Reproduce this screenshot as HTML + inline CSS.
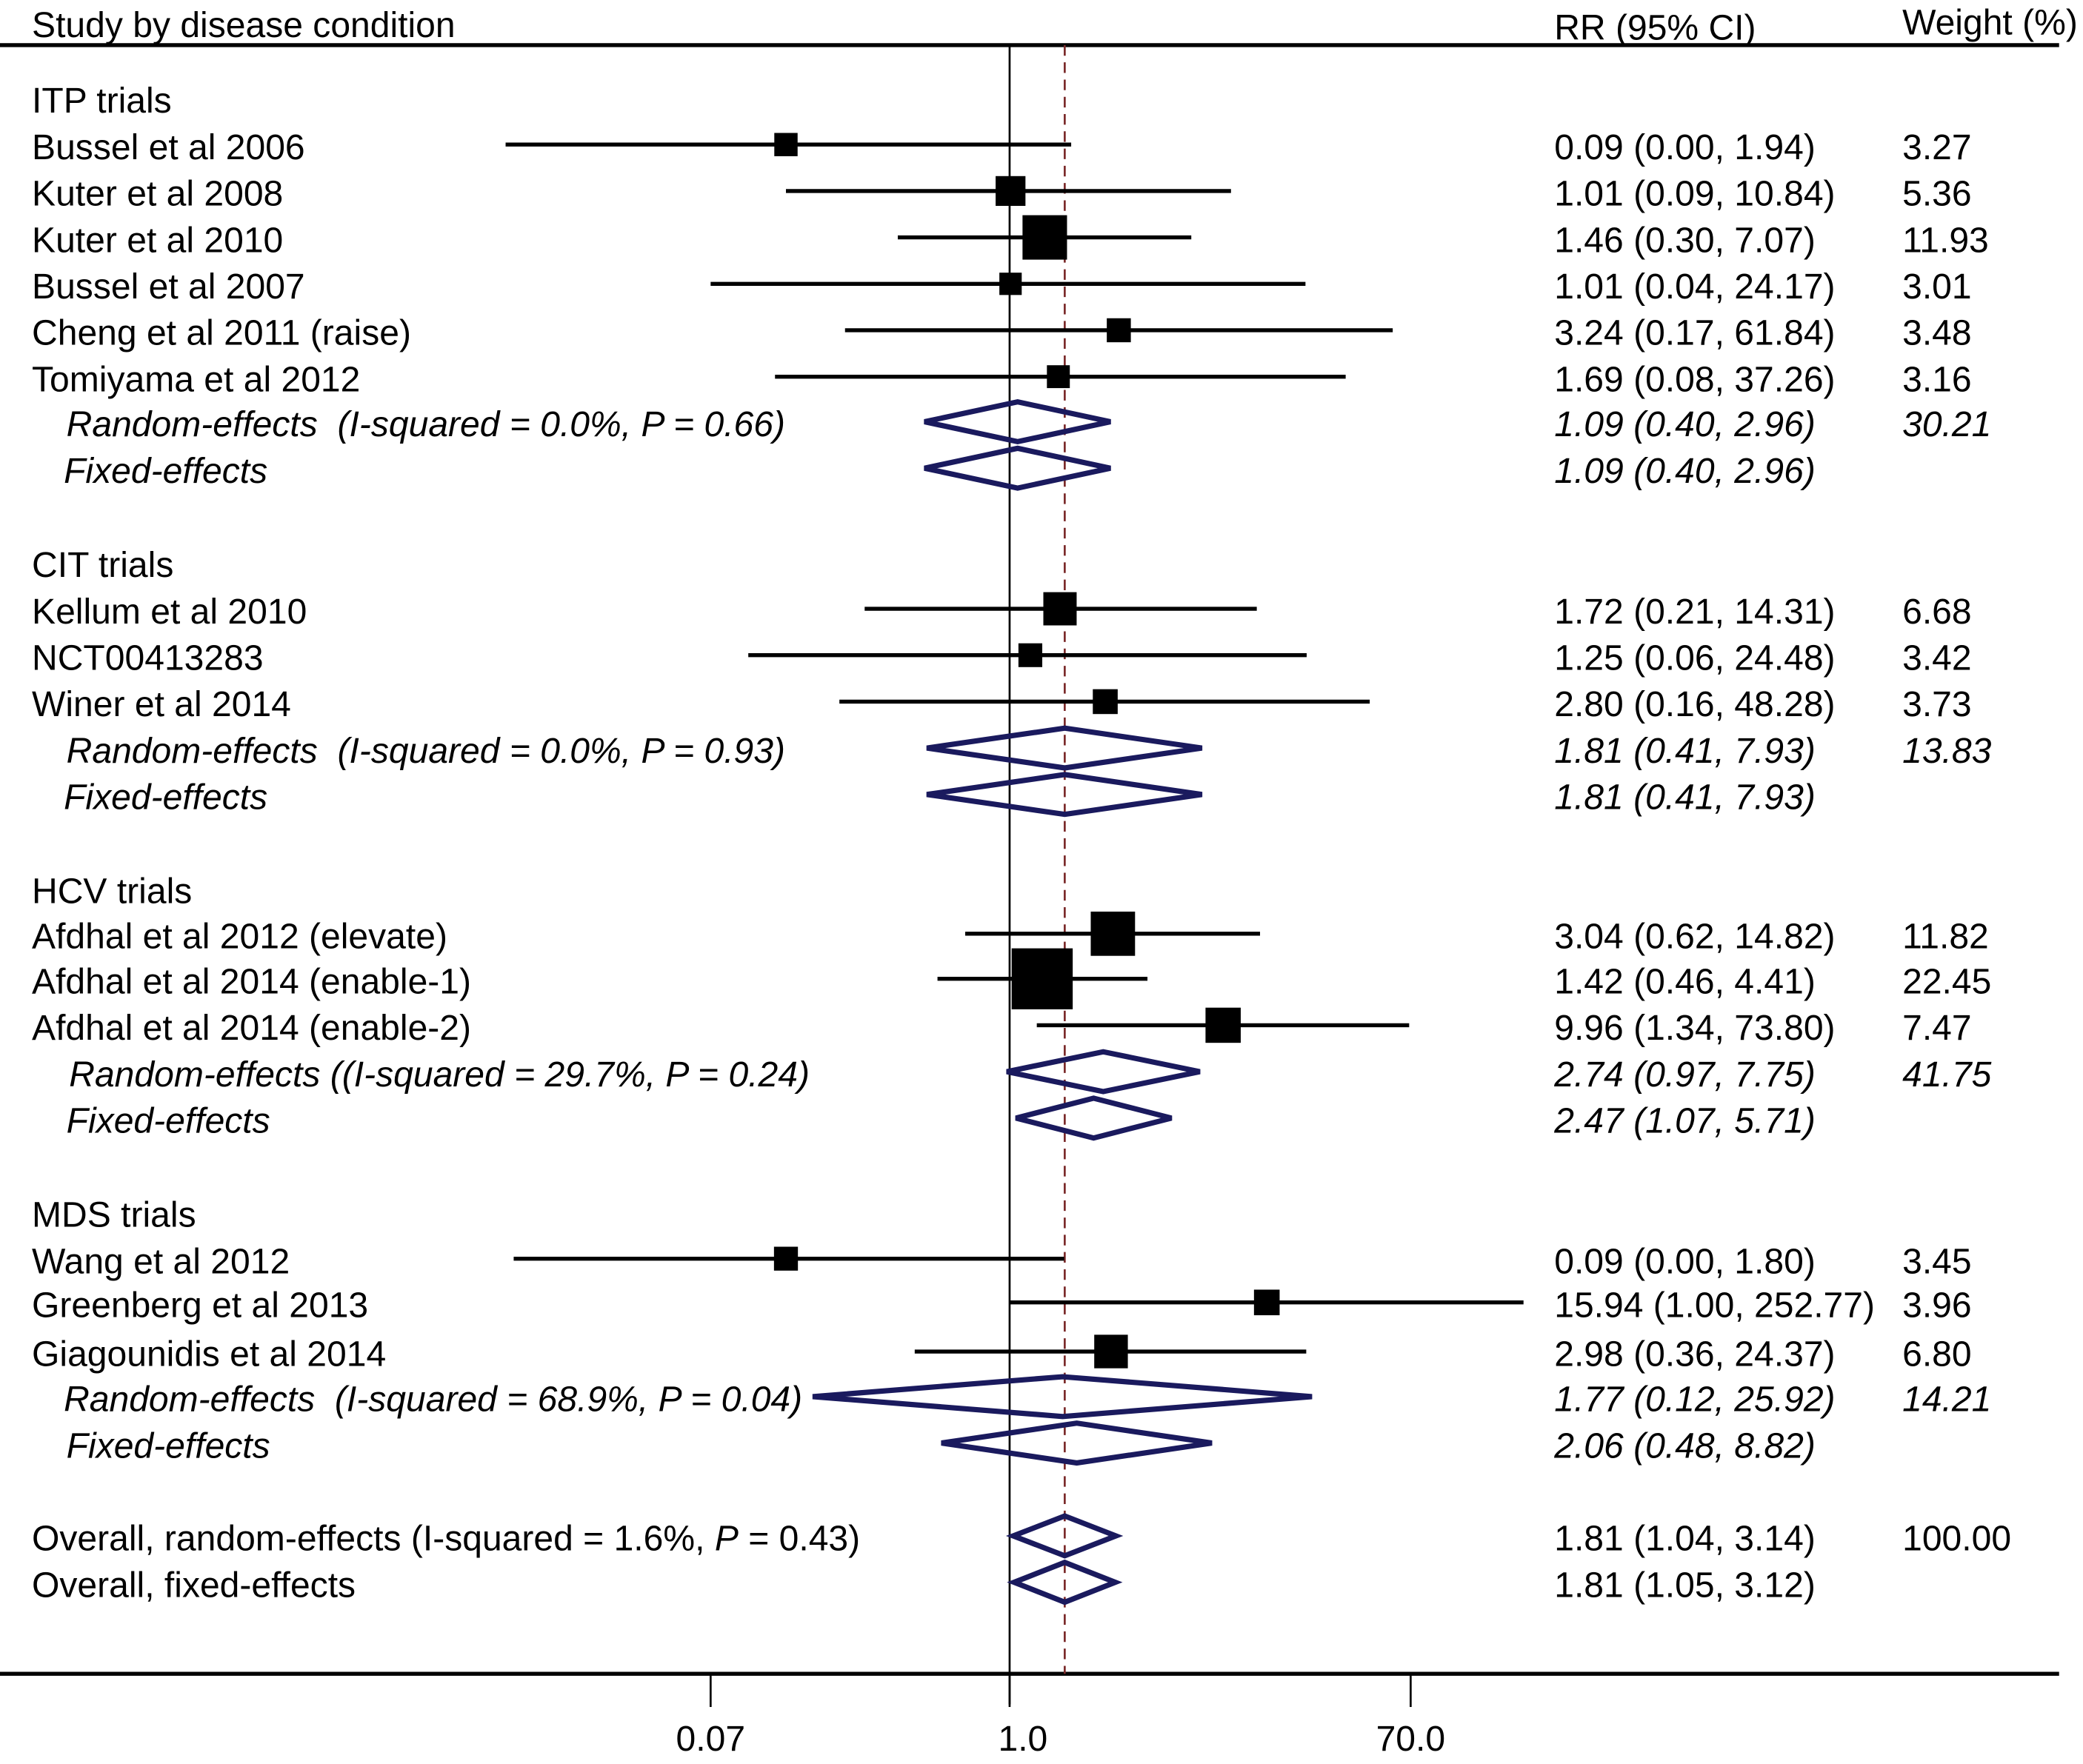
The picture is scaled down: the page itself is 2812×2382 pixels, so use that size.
<!DOCTYPE html>
<html><head><meta charset="utf-8"><style>
html,body{margin:0;padding:0;background:#fff}
svg{display:block}
text{font-family:"Liberation Sans",sans-serif;font-size:26.8px;fill:#000;white-space:pre}
</style></head><body>
<svg id="chart" width="2812" height="2382" viewBox="0 0 1568 1330" preserveAspectRatio="none" xmlns="http://www.w3.org/2000/svg" xml:space="preserve">
<g id="g"></g>
</svg>
<script>
// Study rows: labels, estimates, CI lows/highs, weights, RR text, row index
const labels=["Bussel et al 2006","Kuter et al 2008","Kuter et al 2010","Bussel et al 2007","Cheng et al 2011 (raise)","Tomiyama et al 2012","Kellum et al 2010","NCT00413283","Winer et al 2014","Afdhal et al 2012 (elevate)","Afdhal et al 2014 (enable-1)","Afdhal et al 2014 (enable-2)","Wang et al 2012","Greenberg et al 2013","Giagounidis et al 2014"];
const est=[0.09,1.01,1.46,1.01,3.24,1.69,1.72,1.25,2.80,3.04,1.42,9.96,0.09,15.94,2.98];
const lo=[0.0044,0.09,0.30,0.04,0.17,0.08,0.21,0.06,0.16,0.62,0.46,1.34,0.0048,1.00,0.36];
const hi=[1.94,10.84,7.07,24.17,61.84,37.26,14.31,24.48,48.28,14.82,4.41,73.80,1.80,252.77,24.37];
const weights=[3.27,5.36,11.93,3.01,3.48,3.16,6.68,3.42,3.73,11.82,22.45,7.47,3.45,3.96,6.80];
const rrText=["0.09 (0.00, 1.94)","1.01 (0.09, 10.84)","1.46 (0.30, 7.07)","1.01 (0.04, 24.17)","3.24 (0.17, 61.84)","1.69 (0.08, 37.26)","1.72 (0.21, 14.31)","1.25 (0.06, 24.48)","2.80 (0.16, 48.28)","3.04 (0.62, 14.82)","1.42 (0.46, 4.41)","9.96 (1.34, 73.80)","0.09 (0.00, 1.80)","15.94 (1.00, 252.77)","2.98 (0.36, 24.37)"];
const studyY=[111,146,181,216,251,286,461,496,531,706,740,775,951,984,1021];
// Pooled rows
const poolLabels=["Random-effects  (I-squared = 0.0%, P = 0.66)","Fixed-effects","Random-effects  (I-squared = 0.0%, P = 0.93)","Fixed-effects","Random-effects ((I-squared = 29.7%, P = 0.24)","Fixed-effects","Random-effects  (I-squared = 68.9%, P = 0.04)","Fixed-effects","Overall, random-effects (I-squared = 1.6%, P = 0.43)","Overall, fixed-effects"];
const poolEst=[1.09,1.09,1.81,1.81,2.74,2.47,1.77,2.06,1.81,1.81];
const poolLo=[0.40,0.40,0.41,0.41,0.97,1.07,0.12,0.48,1.04,1.05];
const poolHi=[2.96,2.96,7.93,7.93,7.75,5.71,25.92,8.82,3.14,3.12];
const poolRR=["1.09 (0.40, 2.96)","1.09 (0.40, 2.96)","1.81 (0.41, 7.93)","1.81 (0.41, 7.93)","2.74 (0.97, 7.75)","2.47 (1.07, 5.71)","1.77 (0.12, 25.92)","2.06 (0.48, 8.82)","1.81 (1.04, 3.14)","1.81 (1.05, 3.12)"];
const poolW=["30.21","","13.83","","41.75","","14.21","","100.00",""];
const poolY=[320,355,566,601,810,845,1055,1090,1160,1195];
const poolX=[50,48,50,48,52,50,48,50,24,24];
const groups=["ITP trials","CIT trials","HCV trials","MDS trials"];
const groupY=[76,426,672,916];
const tickLabels=["0.07","1.0","70.0"];
const tickVals=[0.04,1,75];
const overallRR=1.81;

const NS="http://www.w3.org/2000/svg";
const g=document.getElementById('g');
const X0=760, PPD=161;
function x(v){return X0+Math.log10(v)*PPD;}
function el(t,a,txt){const e=document.createElementNS(NS,t);for(const k in a)e.setAttribute(k,a[k]);if(txt!==undefined)e.textContent=txt;g.appendChild(e);return e;}

let e;
e=el('text',{x:24,y:28},'Study by disease condition');


e=el('text',{x:1170,y:30},'RR (95% CI)');


e=el('text',{x:1432,y:26},'Weight (%)');


e=el('line',{x1:0,y1:34,x2:1550,y2:34,stroke:'#000','stroke-width':3});


e=el('line',{x1:0,y1:1262,x2:1550,y2:1262,stroke:'#000','stroke-width':3});


e=el('line',{x1:x(1),y1:34,x2:x(1),y2:1285,stroke:'#000','stroke-width':1.5});


e=el('line',{x1:x(overallRR),y1:34,x2:x(overallRR),y2:1262,stroke:'#7a2a2a','stroke-width':1.5,'stroke-dasharray':'8,5'});



tickVals.forEach((v,i)=>{
  let t=el('line',{x1:x(v),y1:1262,x2:x(v),y2:1287,stroke:'#000','stroke-width':1.5});
  
  
  let l=el('text',{x:x(v)+(i==1?10:0),y:1320,'text-anchor':'middle'},tickLabels[i]);
  
  
});

groups.forEach((s,i)=>{
  let t=el('text',{x:24,y:groupY[i]+9},s);
  
  
});

labels.forEach((s,i)=>{
  const y=studyY[i];
  let t=el('text',{x:24,y:y+9},s);
  
  
  let c=el('line',{x1:x(lo[i]),y1:y-2,x2:x(hi[i]),y2:y-2,stroke:'#000','stroke-width':3});
  
  
  const s2=9.7*Math.sqrt(weights[i]);
  let b=el('rect',{x:x(est[i])-s2/2,y:y-2-s2/2,width:s2,height:s2,fill:'#000'});
  
  
  let r=el('text',{x:1170,y:y+9},rrText[i]);
  
  
  let w=el('text',{x:1432,y:y+9},weights[i].toFixed(2));
  
  
});

poolLabels.forEach((s,i)=>{
  const y=poolY[i], overall=i>=8;
  let t=el('text',{x:poolX[i],y:y+9,'font-style':overall?'normal':'italic'});
  if(overall&&i==8){t.appendChild(document.createTextNode('Overall, random-effects (I-squared = 1.6%, '));const ts=document.createElementNS(NS,'tspan');ts.setAttribute('font-style','italic');ts.textContent='P';t.appendChild(ts);t.appendChild(document.createTextNode(' = 0.43)'));}
  else t.textContent=s;
  
  
  const h=15;
  let d=el('polygon',{points:`${x(poolLo[i])},${y-2} ${x(poolEst[i])},${y-2-h} ${x(poolHi[i])},${y-2} ${x(poolEst[i])},${y-2+h}`,fill:'none',stroke:'#1a1a5e','stroke-width':4});
  
  
  let r=el('text',{x:1170,y:y+9,'font-style':overall?'normal':'italic'},poolRR[i]);
  
  
  if(poolW[i]){let w=el('text',{x:1432,y:y+9,'font-style':overall?'normal':'italic'},poolW[i]);
  
  }
});
</script>
</body></html>
